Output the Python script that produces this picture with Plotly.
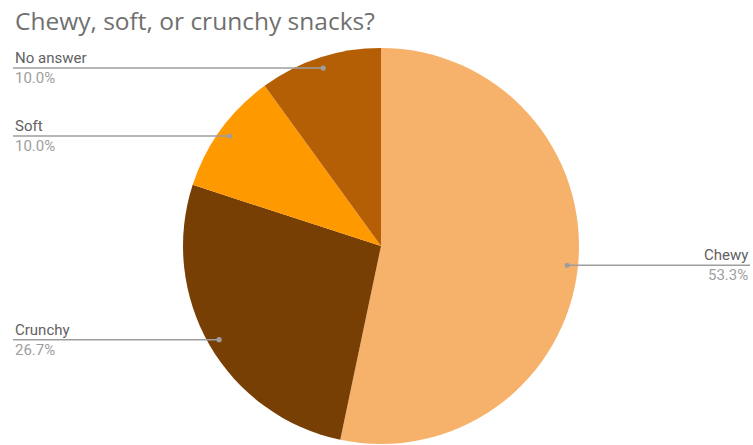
import numpy as np
import plotly.graph_objects as go

# Survey answers
labels = ["Chewy", "Crunchy", "Soft", "No answer"]
shares = [53.3, 26.7, 10.0, 10.0]
colors = ["#F6B26B", "#783F04", "#FF9900", "#B45F06"]
title_text = "Chewy, soft, or crunchy snacks?"

W, H = 753, 445
cx, cy, R = 381.0, 246.0, 198.0   # pie centre and radius in pixels
dot_r = 0.945 * R                 # where the leader line touches the slice
left_x, right_x = 13, 750
line_col = "#9E9E9E"

fig = go.Figure()

fig.add_trace(go.Pie(
    labels=labels, values=shares, sort=False, direction="clockwise", rotation=0,
    marker=dict(colors=colors, line=dict(width=0)),
    textinfo="none", showlegend=False,
    domain=dict(x=[(cx - R) / W, (cx + R) / W], y=[1 - (cy + R) / H, 1 - (cy - R) / H]),
))

# leader lines and labels, placed at each slice's mid angle
vals = np.array(shares, dtype=float)
frac = vals / vals.sum()
mid = (np.cumsum(frac) - frac / 2) * 2 * np.pi
annotations, shapes = [], []
for name, pct, a in zip(labels, frac, mid):
    dx, dy = cx + dot_r * np.sin(a), cy - dot_r * np.cos(a)
    right = dx > cx
    x_end = right_x if right else left_x
    shapes.append(dict(type="line", xref="x", yref="y", x0=dx, x1=x_end, y0=dy, y1=dy,
                       line=dict(color=line_col, width=1.5), layer="above"))
    shapes.append(dict(type="circle", xref="x", yref="y", x0=dx - 2.6, x1=dx + 2.6,
                       y0=dy - 2.6, y1=dy + 2.6, fillcolor=line_col,
                       line=dict(width=0), layer="above"))
    anchor = "right" if right else "left"
    annotations.append(dict(x=x_end, y=dy, xref="x", yref="y", text=name,
                            showarrow=False, xanchor=anchor, yanchor="bottom", yshift=-1,
                            font=dict(family="Roboto", size=15, color="#616161")))
    annotations.append(dict(x=x_end, y=dy, xref="x", yref="y", text=f"{pct*100:.1f}%",
                            showarrow=False, xanchor=anchor, yanchor="top", yshift=1,
                            font=dict(family="Roboto", size=15, color="#9E9E9E")))

fig.update_layout(
    width=W, height=H, margin=dict(l=0, r=0, t=0, b=0),
    paper_bgcolor="white", plot_bgcolor="rgba(0,0,0,0)",
    title=dict(text=title_text, x=15 / W, xanchor="left", y=1 - 21 / H, yanchor="middle",
               font=dict(family="Open Sans", size=24.5, color="#707070")),
    xaxis=dict(range=[0, W], visible=False, fixedrange=True, domain=[0, 1]),
    yaxis=dict(range=[H, 0], visible=False, fixedrange=True, domain=[0, 1]),
    shapes=shapes,
    annotations=annotations,
)

fig.write_html("out.html")
